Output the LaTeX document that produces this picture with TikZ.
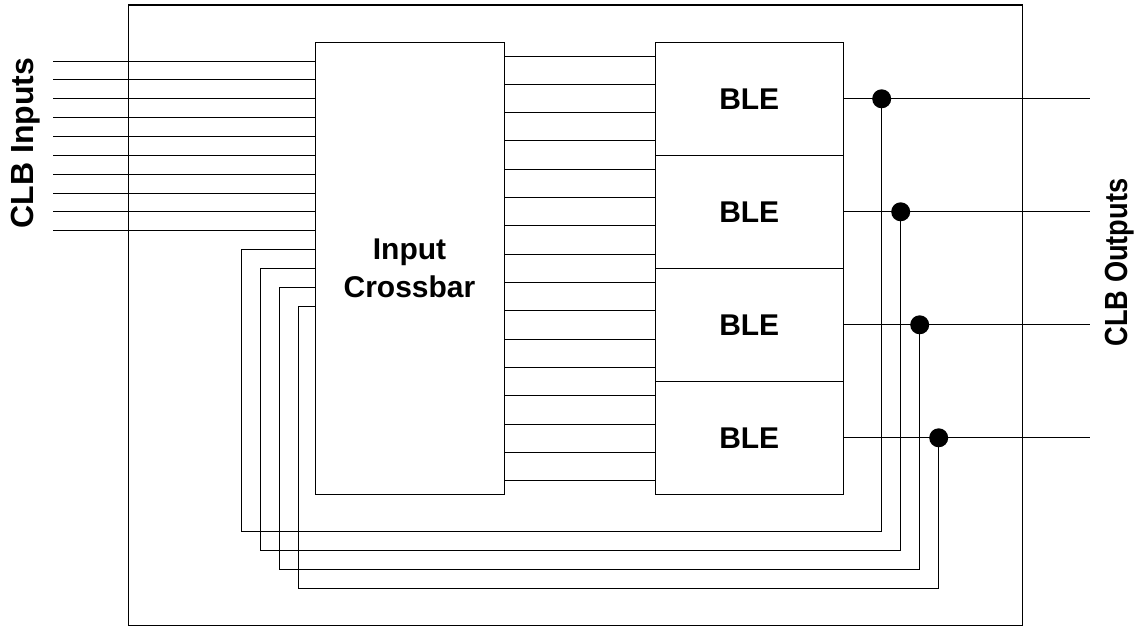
\documentclass[tikz,border=0pt]{standalone}
\usepackage{fontspec}
\setmainfont{Liberation Sans}
\usetikzlibrary{positioning, calc}
\tikzset{
  every picture/.style={line width=1pt, x=1pt, y=-1pt},
  blk/.style={draw, inner sep=0pt, align=center, font=\bfseries\fontsize{30}{38}\selectfont},
  wire/.style={draw, line width=1pt},
  joint/.style={circle, fill, inner sep=0pt, minimum size=19pt},
  lbl/.style={font=\bfseries\fontsize{32}{38}\selectfont, rotate=90, anchor=base, inner sep=0pt},
}

\begin{document}
\begin{tikzpicture}
  \useasboundingbox (0,0) rectangle (1144,627);
  % CLB frame, crossbar and BLEs
  \node[draw, line width=1.3pt, minimum width=894.4pt, minimum height=620.7pt, inner sep=0pt] (clb) at (575.5,315.35) {};
  \node[blk, minimum width=189pt, minimum height=451.7pt] (xbar) at (409.5,268.15) {Input\\Crossbar};
  \foreach \i in {1,...,4}
    \node[blk, minimum width=188.5pt, minimum height=113pt] (ble\i) at (749.25,{42.3+113*(\i-0.5)}) {BLE};
  % CLB inputs into the crossbar
  \foreach \k in {0,...,9} {
    \coordinate (in\k) at (53,{61+18.86*\k});
    \draw[wire] (in\k) -- (in\k -| xbar.west);
  }
  % crossbar to BLE inputs, four per BLE
  \foreach \k in {0,...,15} {
    \pgfmathtruncatemacro\j{int(\k/4)+1}
    \coordinate (m\k) at (0,{56+28.33*\k});
    \draw[wire] (xbar.east |- m\k) -- (ble\j.west |- m\k);
  }
  % BLE outputs, fed back round the bottom
  \foreach \i in {1,...,4} {
    \pgfmathsetmacro\xd{881.7+19*(\i-1)}
    \pgfmathsetmacro\yb{531.7+19*(\i-1)}
    \pgfmathsetmacro\xl{241.3+19*(\i-1)}
    \pgfmathsetmacro\yt{249.3+19*(\i-1)}
    \coordinate (out\i) at ($(ble\i.east)+(245.5,0)$);
    \coordinate (fb\i) at (\xl,\yt);
    \node[joint] (d\i) at (\xd,0 |- ble\i.east) {};
    \draw[wire] (ble\i.east) -- (out\i);
    \draw[wire] (d\i.center) |- (\xl,\yb) -- (fb\i) -- (xbar.west |- fb\i);
  }
  \node[lbl] (inlbl) at (33,143) {CLB Inputs};
  \node[lbl] (outlbl) at (1127.7,262.5) {\scalebox{0.85}[1]{CLB Outputs}};
\end{tikzpicture}
\end{document}
